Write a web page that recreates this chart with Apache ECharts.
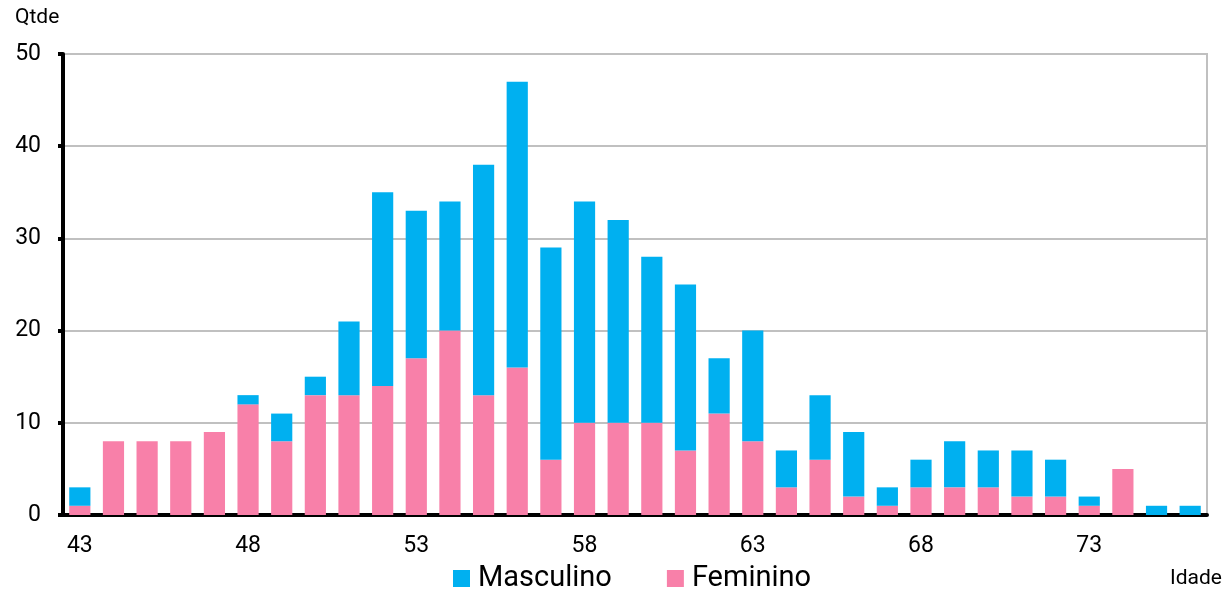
<!DOCTYPE html>
<html>
<head>
<meta charset="utf-8">
<script src="https://cdn.jsdelivr.net/npm/echarts@6/dist/echarts.min.js"></script>
<style>
  html, body { margin: 0; padding: 0; background: #fff; }
  #chart { width: 1226px; height: 590px; }
</style>
</head>
<body>
<div id="chart"></div>
<script>
// idades 43..76
const idades = ['43', '44', '45', '46', '47', '48', '49', '50', '51', '52', '53',
    '54', '55', '56', '57', '58', '59', '60', '61', '62', '63', '64', '65', '66',
    '67', '68', '69', '70', '71', '72', '73', '74', '75', '76'];
const feminino = [1, 8, 8, 8, 9, 12, 8, 13, 13, 14, 17, 20, 13, 16, 6, 10, 10,
    10, 7, 11, 8, 3, 6, 2, 1, 3, 3, 3, 2, 2, 1, 5, 0, 0];
const masculino = [2, 0, 0, 0, 0, 1, 3, 2, 8, 21, 16, 14, 25, 31, 23, 24, 22,
    18, 18, 6, 12, 4, 7, 7, 2, 3, 5, 4, 5, 4, 1, 0, 1, 1];
const yMin = 0, yMax = 50, yStep = 10;

const fontFam = 'Roboto, "Liberation Sans", sans-serif';
const azul = '#00B0F0';
const rosa = '#F880A9';

const chart = echarts.init(document.getElementById('chart'));
chart.setOption({
    animation: false,
    textStyle: { fontFamily: fontFam, color: '#000' },
    grid: {
        left: 63, right: 19, top: 54, bottom: 75,
        show: true, borderColor: '#c0c0c0', borderWidth: 2,
    },
    legend: {
        data: ['Masculino', 'Feminino'],
        top: 564, left: 453, padding: 0,
        itemWidth: 17, itemHeight: 17, itemGap: 55,
        icon: 'rect',
        textStyle: { fontSize: 29, fontFamily: fontFam, color: '#000', padding: [0, 0, 0, 3] },
    },
    xAxis: {
        type: 'category',
        data: idades,
        axisLine: { lineStyle: { color: '#000', width: 4 } },
        axisTick: { interval: 4, length: 8, lineStyle: { color: '#000', width: 4 } },
        axisLabel: { interval: 4, fontSize: 23, color: '#000', margin: 20 },
        splitLine: { show: false },
    },
    yAxis: {
        type: 'value',
        min: yMin, max: yMax, interval: yStep,
        axisLine: { show: true, lineStyle: { color: '#000', width: 4 } },
        axisTick: { show: true, length: 5, lineStyle: { color: '#000', width: 4 } },
        axisLabel: { fontSize: 23, color: '#000', margin: 22 },
        splitLine: { lineStyle: { color: '#c0c0c0', width: 2 } },
    },
    graphic: [
        { type: 'text', left: 15, top: 7,
          style: { text: 'Qtde', font: '21px ' + fontFam, fill: '#000' } },
        { type: 'text', right: 4, top: 568,
          style: { text: 'Idade', font: '21px ' + fontFam, fill: '#000' } },
    ],
    series: [
        {
            name: 'Feminino', type: 'bar', stack: 'total',
            data: feminino, barCategoryGap: '37%',
            itemStyle: { color: rosa },
        },
        {
            name: 'Masculino', type: 'bar', stack: 'total',
            data: masculino, barCategoryGap: '37%',
            itemStyle: { color: azul },
        },
    ],
});
</script>
</body>
</html>
